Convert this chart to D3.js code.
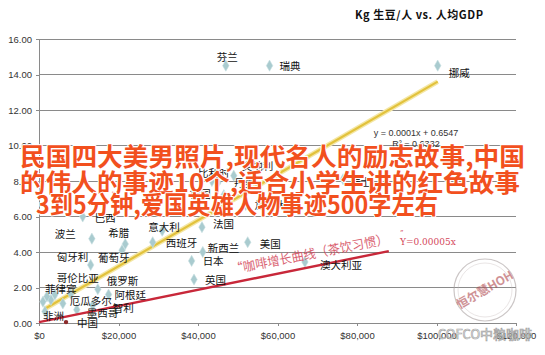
<!DOCTYPE html>
<html><head><meta charset="utf-8">
<script src="https://cdn.jsdelivr.net/npm/d3@7"></script>
<style>html,body{margin:0;padding:0;background:#fff;}svg{display:block;}</style>
</head><body>
<svg id="c" width="545" height="355"></svg>
<script>
// ---- data ----
const countries = ["芬兰","瑞典","挪威","瑞士","比利时","奥地利","丹麦","德国","加拿大","法国","美国","新西兰","日本","英国","澳大利亚","巴西","波兰","希腊","意大利","西班牙","葡萄牙","匈牙利","俄罗斯","哥伦比亚","菲律宾","厄瓜多尔","阿根廷","智利","墨西哥","非洲","","",""];
const gdpPerCapita = [47000,58000,100300,76500,43500,49000,45000,46500,52000,41000,52500,41200,38400,39000,66900,11000,13300,21700,31000,28600,20900,13000,14800,8000,3000,6000,17500,13500,9500,1500,2000,4000,1000];
const kgPerCapita = [14.5,14.5,14.5,8.1,8.0,8.3,7.9,7.2,6.65,5.4,4.55,4.0,3.5,2.45,3.44,6.0,4.75,4.45,5.2,4.55,4.1,3.27,1.9,1.65,1.3,1.1,1.6,1.0,0.75,0.65,1.5,1.6,1.2];
const chinaPoint = {name:"中国", gdp:6800, kg:0.05};
const yellowTrend = [[1500,0.8],[100300,13.6]];
const redTrend = [[0,0.05],[88000,4.05]];
const xTicks = [0,20000,40000,60000,80000,100000,120000];
const yTicks = [0,2,4,6,8,10,12,14,16];
const title = "Kg 生豆/人 vs. 人均GDP";
const equation = "y = 0.0001x + 0.6547";
const rSquared = "R² = 0.6332";
const overlayLines = ["民国四大美男照片,现代名人的励志故事,中国","的伟人的事迹10个,适合小学生讲的红色故事","3到5分钟,爱国英雄人物事迹500字左右"];
const annotation = "“咖啡增长曲线（茶饮习惯）";
const annotationEq = "Y=0.00005x";

// ---- layout (label offsets in px) ----
const labelOffsets = {
 "芬兰":[-9,-9],"瑞典":[10,0],"挪威":[11,7],"瑞士":[7,2],"比利时":[-14,-9],"奥地利":[8,-10],
 "丹麦":[16,0],"德国":[-34,-2],"加拿大":[9,0],"法国":[11,-4],"美国":[12,1],"新西兰":[5,-5],
 "日本":[11,0],"英国":[11,0],"澳大利亚":[15,3],"巴西":[12,1],"波兰":[-37,-5],"希腊":[-17,-12],
 "意大利":[-14,-4],"西班牙":[13,0],"葡萄牙":[-24,7],"匈牙利":[-34,-8],"俄罗斯":[9,-9],
 "哥伦比亚":[-14,-16],"菲律宾":[-6,-11],"厄瓜多尔":[7,-3],"阿根廷":[6,0],"智利":[20,2],
 "墨西哥":[10,3],"非洲":[-2,4]
};

const svg = d3.select("#c");
const x = d3.scaleLinear().domain([0,120000]).range([39,516]);
const y = d3.scaleLinear().domain([0,16]).range([323,39]);

// gridlines
svg.append("g").selectAll("line").data(yTicks.filter(d=>d>0)).join("line")
  .attr("x1",x(0)).attr("x2",x(120000)).attr("y1",d=>y(d)).attr("y2",d=>y(d))
  .attr("stroke","#8a8a8a").attr("stroke-width",1).attr("shape-rendering","crispEdges");

// axes
const yAxis = d3.axisLeft(y).tickValues(yTicks).tickSize(3).tickFormat(d3.format(".2f"));
const gy = svg.append("g").attr("transform",`translate(${x(0)},0)`).call(yAxis);
const xAxis = d3.axisBottom(x).tickValues(xTicks).tickSize(3).tickFormat(d=>"$"+d3.format(",")(d));
const gx = svg.append("g").attr("transform",`translate(0,${y(0)})`).call(xAxis);
[gx,gy].forEach(g=>{
  g.selectAll("path,line").attr("stroke","#8a8a8a").attr("shape-rendering","crispEdges");
  g.selectAll("text").attr("font-family","Liberation Sans, Arial, sans-serif").attr("font-size",9.5).attr("fill","#333");
});
gx.select(".domain").attr("d",`M${x(0)},0.5H${x(120000)}`);
gx.selectAll("text").attr("dy","1.1em");
gy.selectAll("text").attr("dx","-1");

// trend lines
const line = d3.line().x(d=>x(d[0])).y(d=>y(d[1]));
svg.append("path").datum(yellowTrend).attr("d",line).attr("stroke","#f4e7a6").attr("stroke-width",5).attr("fill","none");
svg.append("path").datum(yellowTrend).attr("d",line).attr("stroke","#e2c23c").attr("stroke-width",2.2).attr("fill","none");

// points
const pts = countries.map((n,i)=>({name:n,gdp:gdpPerCapita[i],kg:kgPerCapita[i]}));
const diamond = d3.symbol().type(d3.symbolDiamond).size(36);
svg.append("g").selectAll("path").data(pts).join("path")
  .attr("d",diamond).attr("transform",d=>`translate(${x(d.gdp)},${y(d.kg)})`)
  .attr("fill","#a9cbcf").attr("stroke","#c7dfe1").attr("stroke-width",0.6);

svg.append("path").datum(redTrend).attr("d",line).attr("stroke","#c8283a").attr("stroke-width",2.4).attr("fill","none");

// china
svg.append("circle").attr("cx",x(chinaPoint.gdp)).attr("cy",y(chinaPoint.kg)).attr("r",2.2).attr("fill","#8b2a2a");

// labels
const lbl = svg.append("g").attr("font-family","Noto Sans CJK SC, sans-serif").attr("font-size",10.5).attr("fill","#111");
lbl.selectAll("text").data(pts.filter(d=>d.name)).join("text")
  .attr("x",d=>x(d.gdp)+labelOffsets[d.name][0]).attr("y",d=>y(d.kg)+labelOffsets[d.name][1])
  .attr("dominant-baseline","central").text(d=>d.name);
lbl.append("text").attr("x",x(chinaPoint.gdp)+11).attr("y",y(chinaPoint.kg)).attr("dominant-baseline","central").text(chinaPoint.name);

// equation
svg.append("text").attr("x",416).attr("y",136).attr("text-anchor","middle").attr("font-family","Liberation Sans, sans-serif").attr("font-size",9).attr("fill","#333").text(equation);
svg.append("text").attr("x",416).attr("y",147).attr("text-anchor","middle").attr("font-family","Liberation Sans, sans-serif").attr("font-size",9).attr("fill","#333").text(rSquared);

// title
svg.append("text").attr("x",355).attr("y",19).attr("font-family","Noto Sans CJK SC, sans-serif").attr("font-weight","bold").attr("font-size",11).attr("fill","#111")
  .attr("textLength",128).attr("lengthAdjust","spacing").text(title);

// handwritten annotation
svg.append("text").attr("transform","translate(232,274) rotate(-11)").attr("font-family","Noto Sans CJK SC, sans-serif").attr("font-size",13).attr("fill","#d4485a").attr("opacity",0.85).attr("textLength",160).attr("lengthAdjust","spacingAndGlyphs").text(annotation);
svg.append("text").attr("x",400).attr("y",245).attr("font-family","DejaVu Serif, serif").attr("font-size",9).attr("fill","#d4485a").text(annotationEq);
svg.append("text").attr("x",400).attr("y",235).attr("font-family","DejaVu Serif, serif").attr("font-size",7).attr("fill","#d4485a").text("”");

// stamp watermark
const st = svg.append("g").attr("transform","translate(485,290)").attr("opacity",0.6);
st.append("circle").attr("r",31).attr("fill","none").attr("stroke","#a9a0a0").attr("stroke-width",1.2);
st.append("circle").attr("r",27).attr("fill","none").attr("stroke","#c5b9b9").attr("stroke-width",0.6);
st.append("text").attr("transform","rotate(-30)").attr("text-anchor","middle").attr("y",4).attr("font-family","Noto Sans CJK SC, sans-serif").attr("font-weight","bold").attr("font-size",12).attr("fill","#b04a50").text("恒尔慧HOH");

// wechat watermark
svg.append("text").attr("x",485).attr("y",339).attr("text-anchor","middle").attr("font-family","Noto Sans CJK SC, sans-serif").attr("font-size",13).attr("fill","#ffffff").attr("stroke","#9a9a9a").attr("stroke-width",0.7).attr("opacity",0.9).text("COFCO中粮咖啡");

// overlay text
const ov = svg.append("g").attr("font-family","Noto Sans CJK SC, sans-serif").attr("font-weight","bold").attr("font-size",25)
  .attr("fill","#f2501e").attr("stroke","#ffffff").attr("stroke-width",2).attr("paint-order","stroke").attr("stroke-linejoin","round");
const ovPos = [[20,166,505],[20,192,500],[36,214,402]];
ov.selectAll("text").data(overlayLines).join("text")
  .attr("x",(d,i)=>ovPos[i][0]).attr("y",(d,i)=>ovPos[i][1])
  .attr("textLength",(d,i)=>ovPos[i][2]).attr("lengthAdjust","spacingAndGlyphs").text(d=>d);
</script>
</body></html>
